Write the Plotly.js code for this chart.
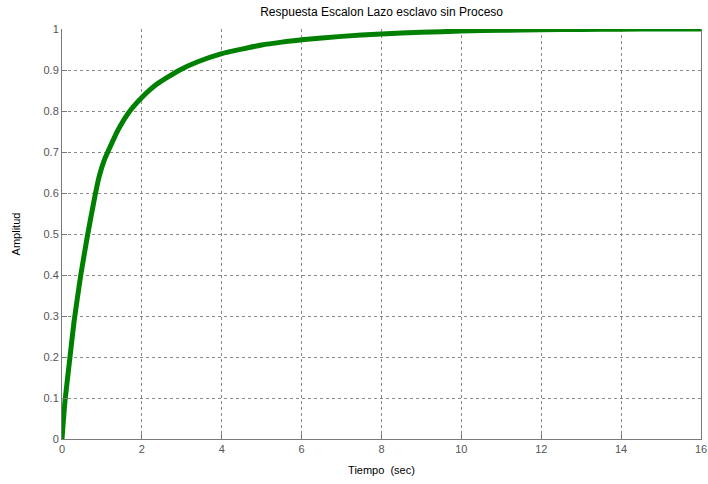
<!DOCTYPE html>
<html>
<head>
<meta charset="utf-8">
<script src="https://cdn.plot.ly/plotly-3.0.1.min.js"></script>
<style>html,body{margin:0;padding:0;background:#fff;}#chart{width:708px;height:484px;}</style>
</head>
<body>
<div id="chart"></div>
<script>
// Step response
var tiempo = [0, 0.075, 0.2, 0.3, 0.47, 0.645, 0.83, 0.93, 1.05, 1.16, 1.41, 1.7, 2.0, 2.37, 2.95, 3.4, 4.0, 4.5, 5.0, 5.5, 6.0, 7.0, 8.0, 9.0, 10.0, 11.0, 12.0, 13.0, 14.0, 15.0, 16.0];
var amplitud = [0, 0.093, 0.2, 0.285, 0.4, 0.5, 0.595, 0.64, 0.678, 0.703, 0.755, 0.8, 0.833, 0.865, 0.9, 0.92, 0.94, 0.951, 0.961, 0.968, 0.974, 0.982, 0.988, 0.992, 0.995, 0.997, 0.998, 0.999, 0.9995, 1.0, 1.0];
var xTicks = [0, 2, 4, 6, 8, 10, 12, 14, 16];
var yTicks = [0, 0.1, 0.2, 0.3, 0.4, 0.5, 0.6, 0.7, 0.8, 0.9, 1];
var titulo = 'Respuesta Escalon Lazo esclavo sin Proceso';
var xLabel = 'Tiempo  (sec)';
var yLabel = 'Amplitud';

var trace = {
  x: tiempo, y: amplitud, type: 'scatter', mode: 'lines',
  line: {color: '#008000', width: 5, shape: 'spline', smoothing: 0.5},
  hoverinfo: 'none'
};
var gridCol = '#8a8a8a';
var layout = {
  width: 708, height: 484,
  margin: {l: 62, r: 7, t: 29, b: 45},
  paper_bgcolor: '#ffffff', plot_bgcolor: '#ffffff',
  showlegend: false,
  font: {family: 'Liberation Sans, Arial, sans-serif', size: 11, color: '#555'},
  title: {text: titulo, font: {size: 12, color: '#000'}, x: 0.539, xanchor: 'center', y: 0.975, yanchor: 'middle'},
  xaxis: {
    range: [0, 16], tickvals: xTicks, ticktext: xTicks.map(String),
    showgrid: true, gridcolor: gridCol, griddash: '3px,3px', gridwidth: 1,
    zeroline: false, showline: true, linecolor: '#7a7a7a', linewidth: 1, mirror: false,
    ticks: 'inside', ticklen: 5, tickcolor: '#7a7a7a',
    tickfont: {size: 11, color: '#555'},
    title: {text: xLabel, font: {size: 11, color: '#000'}, standoff: 12}
  },
  yaxis: {
    range: [0, 1], tickvals: yTicks, ticktext: yTicks.map(String),
    showgrid: true, gridcolor: gridCol, griddash: '3px,3px', gridwidth: 1,
    zeroline: false, showline: true, linecolor: '#7a7a7a', linewidth: 1, mirror: true,
    ticks: 'inside', ticklen: 5, tickcolor: '#7a7a7a',
    tickfont: {size: 11, color: '#555'},
    title: {text: yLabel, font: {size: 11, color: '#000'}, standoff: 20}
  }
};
Plotly.newPlot('chart', [trace], layout, {staticPlot: true, displayModeBar: false});
</script>
</body>
</html>
